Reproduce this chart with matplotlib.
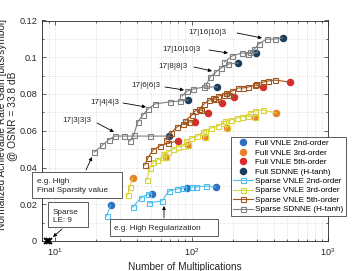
import matplotlib.pyplot as plt
from matplotlib.lines import Line2D
from matplotlib.patches import Rectangle
from matplotlib.ticker import MultipleLocator, FixedLocator, LogLocator

plt.rcParams['font.family'] = ['Liberation Sans', 'DejaVu Sans']
plt.rcParams['mathtext.fontset'] = 'custom'
plt.rcParams['mathtext.rm'] = 'Liberation Sans'
plt.rcParams['mathtext.it'] = 'Liberation Sans:italic'

# ---- data ----
# Sparse SDNNE (H-tanh): one branch per topology, ends at the full model
sdnne_sparse_x = [[19.4, 22.2, 24.6, 27.3, 31.8, 49.4],
                  [35.2, 37.6, 40.3, 43.9, 47.8, 53.8, 69.4, 82.3],
                  [85.1, 92.6, 102.6, 123.7],
                  [128, 137, 151, 165, 186],
                  [174, 198, 236, 257],
                  [270, 289, 310, 355, 406]]
sdnne_sparse_y = [[0.0484, 0.0522, 0.0550, 0.0571, 0.0571, 0.0571],
                  [0.0544, 0.0577, 0.0648, 0.0686, 0.0718, 0.0746, 0.0757, 0.0762],
                  [0.0789, 0.0816, 0.0827, 0.0838],
                  [0.0849, 0.0893, 0.0920, 0.0942, 0.0963],
                  [0.0975, 0.1007, 0.1024, 0.1018],
                  [0.1029, 0.1045, 0.1072, 0.1099, 0.1099]]
sdnne_full_x = [68.2, 94.2, 154, 220, 299, 466]
sdnne_full_y = [0.0571, 0.0767, 0.0838, 0.0969, 0.1024, 0.1105]

vnle5_sparse_x = [[45.4, 47.8, 52.1, 58.6, 67.2],
                  [64.8, 70.6, 78.1, 86.6, 95.9],
                  [89.4, 100.6, 106, 117],
                  [113.7, 123.7, 134.5, 149.3],
                  [144.4, 156.7, 173.4, 189],
                  [179, 198.6, 220, 239.7, 260, 293],
                  [299, 335, 366, 406]]
vnle5_sparse_y = [[0.0414, 0.0452, 0.0495, 0.0517, 0.0533],
                  [0.0550, 0.0588, 0.0620, 0.0637, 0.0648],
                  [0.0653, 0.0686, 0.0708, 0.0713],
                  [0.0718, 0.0746, 0.0767, 0.0773],
                  [0.0778, 0.0789, 0.0795, 0.0795],
                  [0.0806, 0.0816, 0.0833, 0.0833, 0.0838, 0.0849],
                  [0.0854, 0.0865, 0.0871, 0.0876]]
vnle5_full_x = [79.4, 106, 132.6, 167.8, 206, 335, 527]
vnle5_full_y = [0.0544, 0.0648, 0.0697, 0.0751, 0.0784, 0.0838, 0.0865]

vnle3_sparse_x = [[34.0, 35.2],
                  [46.9, 49.4, 52.1, 56.2, 61.4],
                  [61.6, 67.2, 73.0, 79.4, 86.6],
                  [91, 98.8, 110, 121.7],
                  [126, 139, 156.7, 170.8],
                  [176.7, 195, 215, 233, 257],
                  [270, 293, 331]]
vnle3_sparse_y = [[0.0250, 0.0294],
                  [0.0332, 0.0397, 0.0430, 0.0441, 0.0457],
                  [0.0473, 0.0484, 0.0501, 0.0512, 0.0517],
                  [0.0544, 0.0560, 0.0571, 0.0593],
                  [0.0599, 0.0615, 0.0626, 0.0642],
                  [0.0653, 0.0659, 0.0669, 0.0675, 0.0680],
                  [0.0697, 0.0708, 0.0713]]
vnle3_full_x = [37.0, 64.8, 94.2, 126, 182.6, 293, 418]
vnle3_full_y = [0.0343, 0.0457, 0.0522, 0.0566, 0.0615, 0.0675, 0.0697]

vnle2_sparse_x = [[23.8], [37.0, 42.4, 47.8],
                  [48.6, 60.6, 68.2, 78.1, 86.6], [100.6, 108, 128]]
vnle2_sparse_y = [[0.0136], [0.0185, 0.0234, 0.0256],
                  [0.0207, 0.0218, 0.0272, 0.0283, 0.0289], [0.0294, 0.0294, 0.0299]]
vnle2_full_x = [25.5, 51.1, 92.6, 151]
vnle2_full_y = [0.0196, 0.0256, 0.0289, 0.0294]

le_x = [8.7, 9.0]
le_y = [0.0, 0.0]

# colours
c_full2, c_full3, c_full5, c_fullsd = '#2f6fc0', '#e8802a', '#d92b2b', '#1c3d5a'
c_sp2, c_sp3, c_sp5, c_spsd = '#4dbeee', '#d8d43a', '#a0561e', '#808080'

fig = plt.figure(figsize=(3.64, 2.71), dpi=100)
W, H = 364, 271
ax = fig.add_axes([42 / W, 30 / H, 286 / W, 220.5 / H])
ax.set_xscale('log')
ax.set_xlim(8, 1000)
ax.set_ylim(0, 0.12)

ms_sq, ms_dot = 3.6, 4.4


def draw_family(sx, sy, fx, fy, cs, cf, square_on_full=False):
    ax.plot(fx, fy, 'o', color=cf, ms=ms_dot, mec=cf, zorder=3, clip_on=False)
    for bx, by, px, py in zip(sx, sy, fx, fy):
        ax.plot(bx + [px], by + [py], '-', color=cs, lw=0.8, zorder=4)
        ax.plot(bx, by, 's', color=cs, mfc='none', ms=ms_sq, mew=0.8, zorder=5)
    if square_on_full:
        ax.plot(fx[1:-1], fy[1:-1], 's', color=cs, mfc='none', ms=ms_sq, mew=0.8, zorder=5)


draw_family(vnle2_sparse_x, vnle2_sparse_y, vnle2_full_x, vnle2_full_y, c_sp2, c_full2)
draw_family(vnle3_sparse_x, vnle3_sparse_y, vnle3_full_x, vnle3_full_y, c_sp3, c_full3, True)
draw_family(vnle5_sparse_x, vnle5_sparse_y, vnle5_full_x, vnle5_full_y, c_sp5, c_full5)
draw_family(sdnne_sparse_x, sdnne_sparse_y, sdnne_full_x, sdnne_full_y, c_spsd, c_fullsd)
ax.plot(le_x, le_y, 'x', color='k', ms=4, mew=1.3, zorder=6, clip_on=False)

# axes styling
ax.set_xticks([10, 100, 1000])
ax.set_xticklabels(['$10^{1}$', '$10^{2}$', '$10^{3}$'])
ax.xaxis.set_minor_locator(LogLocator(base=10, subs=range(2, 10)))
ax.set_yticks([0, 0.02, 0.04, 0.06, 0.08, 0.1, 0.12])
ax.set_yticklabels(['0', '0.02', '0.04', '0.06', '0.08', '0.1', '0.12'])
ax.yaxis.set_minor_locator(MultipleLocator(0.01))
ax.tick_params(which='both', direction='in', top=True, right=True, width=0.5,
               colors='#262626', labelsize=6.6)
ax.tick_params(which='major', length=3, pad=3.5)
ax.tick_params(which='minor', length=1.6)
ax.grid(which='both', color='#c8c8c8', ls=(0, (1, 2)), lw=0.5)
for s in ax.spines.values():
    s.set_color('#262626')
    s.set_linewidth(0.6)
ax.set_xlabel('Number of Multiplications', fontsize=7.25, color='#262626', labelpad=3)

fig.text(2 / W, 1 - 125 / H, 'Normalized Achievable Rate Gain [bits/symbol]',
         rotation=90, ha='center', va='center', fontsize=7.25, color='#262626')
fig.text(12 / W, 1 - 116 / H, '@ OSNR = 33.8 dB',
         rotation=90, ha='center', va='center', fontsize=7.25, color='#262626')


# annotations (positions in figure pixels, y measured from the top)
def fp(px, py):
    return (px, H - py)


arrows = [((86, 170), (92, 157)), ((62, 229), (53, 237)), ((164, 218), (164, 206)),
          ((97, 123), (114, 132)), ((123, 103), (146, 107)), ((165, 87), (184, 90)),
          ((194, 67), (212, 71)), ((209, 50), (228, 53)), ((237, 33), (262, 38))]
for a, b in arrows:
    ax.annotate('', xy=fp(*b), xycoords='figure pixels', xytext=fp(*a),
                textcoords='figure pixels',
                arrowprops=dict(arrowstyle='-|>', color='k', lw=0.6,
                                mutation_scale=5, shrinkA=0, shrinkB=0))

labels = [('17|3|3|3', 91, 121), ('17|4|4|3', 119, 103), ('17|6|6|3', 160, 86),
          ('17|8|8|3', 188, 67), ('17|10|10|3', 201, 50), ('17|16|10|3', 227, 32)]
for s, x, y in labels:
    fig.text(x / W, 1 - y / H, s, ha='right', va='center', fontsize=5.9, color='#262626')

boxes = [((32, 172, 122, 198), 'e.g. High\nFinal Sparsity value', 37, 186, 1.45),
         ((48, 202, 88, 227), 'Sparse\nLE: 9', 53, 216.5, 1.35),
         ((110, 219, 218, 236), 'e.g. High Regularization', 114, 228, 1.2)]
for (x0, y0, x1, y1), s, tx, ty, lsp in boxes:
    fig.add_artist(Rectangle((x0 / W, 1 - y1 / H), (x1 - x0) / W, (y1 - y0) / H,
                             transform=fig.transFigure, fc='white', ec='#404040',
                             lw=0.6, zorder=5))
    fig.text(tx / W, 1 - ty / H, s, ha='left', va='center', fontsize=5.9,
             linespacing=lsp, color='#262626', zorder=6)

# legend
handles = [Line2D([], [], ls='none', marker='o', color=c_full2, ms=ms_dot),
           Line2D([], [], ls='none', marker='o', color=c_full3, ms=ms_dot),
           Line2D([], [], ls='none', marker='o', color=c_full5, ms=ms_dot),
           Line2D([], [], ls='none', marker='o', color=c_fullsd, ms=ms_dot),
           Line2D([], [], color=c_sp2, lw=0.8, marker='s', mfc='none', ms=ms_sq, mew=0.8),
           Line2D([], [], color=c_sp3, lw=0.8, marker='s', mfc='none', ms=ms_sq, mew=0.8),
           Line2D([], [], color=c_sp5, lw=0.8, marker='s', mfc='none', ms=ms_sq, mew=0.8),
           Line2D([], [], color=c_spsd, lw=0.8, marker='s', mfc='none', ms=ms_sq, mew=0.8)]
names = ['Full VNLE 2nd-order', 'Full VNLE 3rd-order', 'Full VNLE 5th-order',
         'Full SDNNE (H-tanh)', 'Sparse VNLE 2nd-order', 'Sparse VNLE 3rd-order',
         'Sparse VNLE 5th-order', 'Sparse SDNNE (H-tanh)']
leg = ax.legend(handles, names, loc='upper left', bbox_to_anchor=(231 / W, 1 - 137 / H),
                bbox_transform=fig.transFigure, borderaxespad=0, fontsize=5.85,
                frameon=True, fancybox=False, edgecolor='#404040', framealpha=1,
                handlelength=2.4, handletextpad=0.3, labelspacing=0.22, borderpad=0.3)
leg.get_frame().set_linewidth(0.6)
leg.set_zorder(10)

fig.savefig('out.png', dpi=100)
